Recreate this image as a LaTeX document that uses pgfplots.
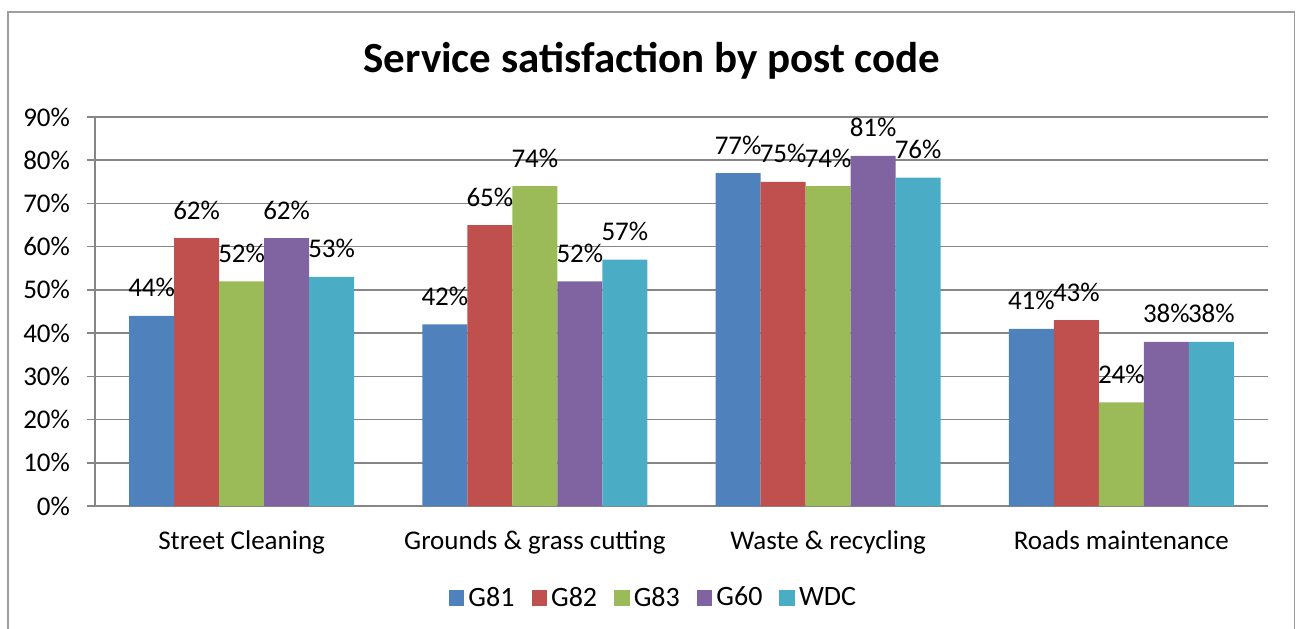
\documentclass[border=0pt]{standalone}
\usepackage{pgfplots}
\pgfplotsset{compat=1.18}
\usepackage{fontspec}
\setmainfont{Carlito}
\definecolor{cA}{HTML}{4F81BD}
\definecolor{cB}{HTML}{C0504D}
\definecolor{cC}{HTML}{9BBB59}
\definecolor{cD}{HTML}{8064A2}
\definecolor{cE}{HTML}{4BACC6}
\definecolor{gridc}{HTML}{868686}
\begin{document}
\begin{tikzpicture}
\useasboundingbox (0pt,0pt) rectangle (648pt,-314pt);
\draw[gridc!80, line width=0.8pt] (4pt,-6pt) rectangle (647.2pt,-330pt);
\node[font=\fontsize{21.5}{25}\selectfont\bfseries, anchor=base] at (326pt,-36pt) {Service satisfaction by post code};
\begin{axis}[
  at={(47.5pt,-253pt)}, anchor=south west,
  scale only axis, width=586.5pt, height=194.5pt,
  ybar=0pt, bar width=22.5pt,
  xmin=-0.5, xmax=3.5, ymin=0, ymax=90,
  axis x line*=bottom, axis y line*=left,
  axis line style={gridc, line width=0.8pt, -},
  xtick={0,1,2,3},
  xticklabels={Street Cleaning, Grounds \& grass cutting, Waste \& recycling, Roads maintenance},
  major x tick style={draw=none},
  extra x ticks={-0.5,0.5,1.5,2.5,3.5},
  extra x tick labels={},
  extra x tick style={major tick length=4pt, tick style={gridc, line width=0.8pt}, tick align=outside, grid=none},
  ytick={0,10,...,90},
  yticklabel={\pgfmathprintnumber{\tick}\%},
  ymajorgrids, major grid style={gridc, line width=0.8pt},
  ytick style={gridc, line width=0.8pt}, tick align=outside, major tick length=4pt,
  tick label style={font=\fontsize{13.5}{16}\selectfont},
  /pgf/number format/assume math mode=true,
  xticklabel style={anchor=base, yshift=-17.5pt},
  yticklabel style={xshift=-5pt},
  nodes near coords={\pgfmathprintnumber{\pgfplotspointmeta}\%},
  every node near coord/.append style={font=\fontsize{13.5}{16}\selectfont, anchor=base, yshift=9.5pt, black},
  legend style={at={(axis description cs:0.5,0)}, anchor=center, xshift=-13.5pt, yshift=-46pt, draw=none, font=\fontsize{14}{16}\selectfont, legend columns=5, /tikz/every even column/.append style={column sep=6.5pt}},
  legend image code/.code={\fill[#1] (0pt,-3.9pt) rectangle (7.8pt,3.9pt);},
  clip=false,
]
\addplot[fill=cA, draw=none] coordinates {(0,44) (1,42) (2,77) (3,41)};
\addplot[fill=cB, draw=none] coordinates {(0,62) (1,65) (2,75) (3,43)};
\addplot[fill=cC, draw=none] coordinates {(0,52) (1,74) (2,74) (3,24)};
\addplot[fill=cD, draw=none] coordinates {(0,62) (1,52) (2,81) (3,38)};
\addplot[fill=cE, draw=none] coordinates {(0,53) (1,57) (2,76) (3,38)};
\legend{G81,G82,G83,G60,WDC}
\end{axis}
\end{tikzpicture}
\end{document}
